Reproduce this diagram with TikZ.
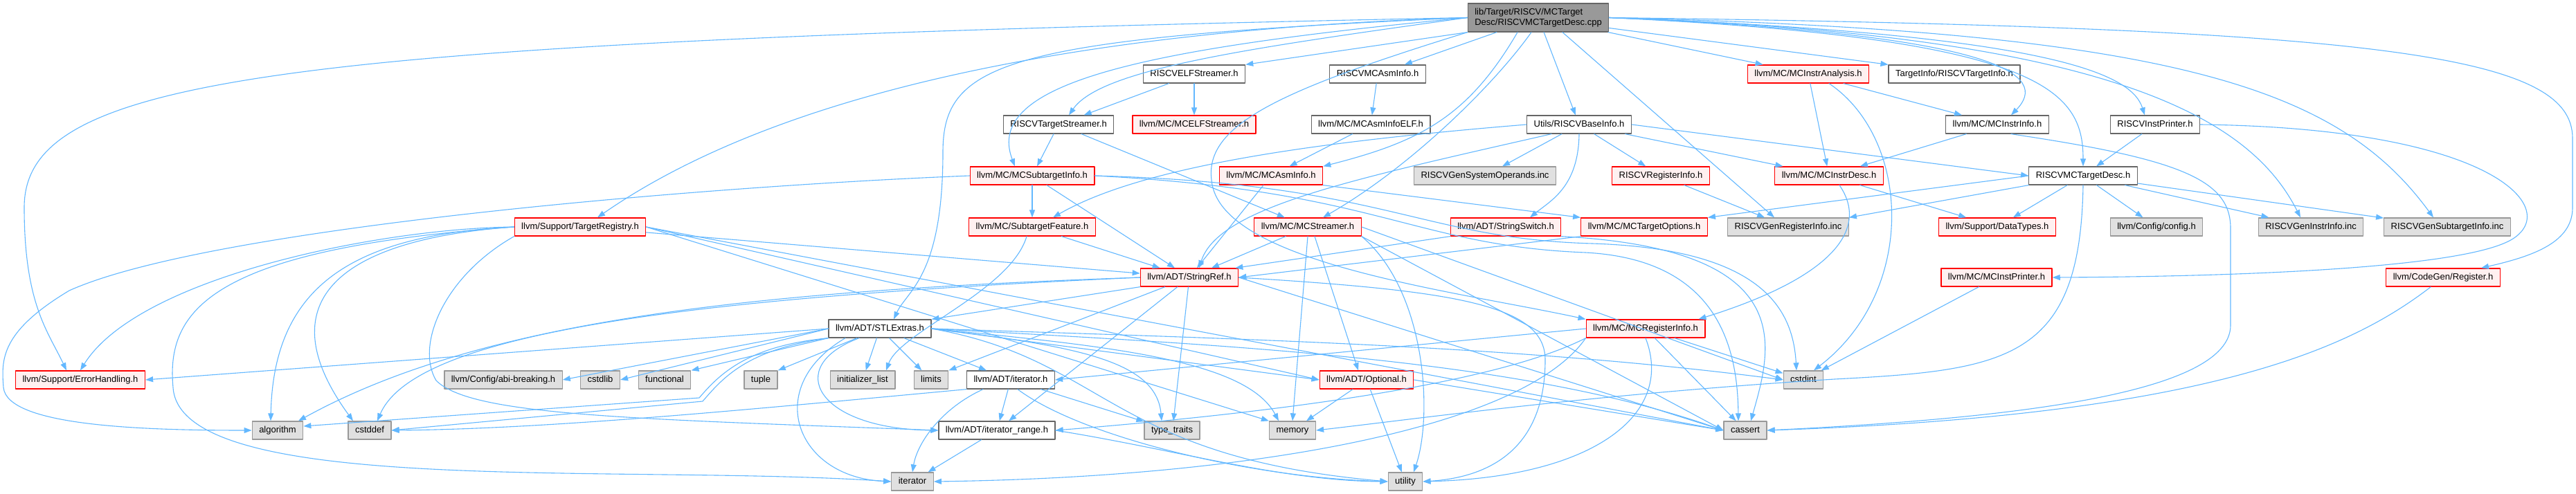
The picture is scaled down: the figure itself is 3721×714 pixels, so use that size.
\documentclass[tikz,border=0pt]{standalone}
\usepackage{fontspec}
\setmainfont{Liberation Sans}
\usetikzlibrary{arrows.meta}
\definecolor{edgecol}{HTML}{63B8FF}
\definecolor{redfill}{HTML}{FFF0F0}
\definecolor{sysfill}{HTML}{E0E0E0}
\definecolor{sysline}{HTML}{999999}
\definecolor{boxline}{HTML}{666666}
\definecolor{rootfill}{HTML}{999999}
\begin{document}
\begin{tikzpicture}[line cap=round,line join=round,>={Triangle[length=11pt,width=8pt]},x=1pt,y=-1pt,
  hdr/.style={draw=boxline,fill=white,line width=1.3pt,minimum height=26pt,inner xsep=10pt,inner ysep=0pt,text height=10pt,text depth=3pt,font=\fontsize{13}{15}\selectfont},
  trunc/.style={hdr,draw=red,fill=redfill},
  sys/.style={hdr,draw=sysline,fill=sysfill},
  root/.style={draw=boxline,fill=rootfill,line width=1.3pt,align=left,inner xsep=10pt,inner ysep=4pt,minimum height=41pt,font=\fontsize{13}{15}\selectfont},
  dep/.style={->,draw=edgecol,fill=none,line width=1.1pt}]
\useasboundingbox (0,0) rectangle (3721,714);
\fill[white] (0,0) rectangle (3721,714);
\node[root] (cpp) at (2222,25.5) {lib/Target/RISCV/MCTarget\\Desc/RISCVMCTargetDesc.cpp};
\node[hdr] (elfstr) at (1725,107) {RISCVELFStreamer.h};
\node[hdr] (asminfor) at (1990,107) {RISCVMCAsmInfo.h};
\node[trunc] (instranal) at (2612,107) {llvm/MC/MCInstrAnalysis.h};
\node[hdr] (tgtinfo) at (2823,107) {TargetInfo/RISCVTargetInfo.h};
\node[hdr] (tgtstr) at (1529,180) {RISCVTargetStreamer.h};
\node[trunc] (mcelf) at (1725,180) {llvm/MC/MCELFStreamer.h};
\node[hdr] (asmelf) at (1980,180) {llvm/MC/MCAsmInfoELF.h};
\node[hdr] (baseinfo) at (2281,180) {Utils/RISCVBaseInfo.h};
\node[hdr] (instrinfo) at (2885,180) {llvm/MC/MCInstrInfo.h};
\node[hdr] (instprinter) at (3113,180) {RISCVInstPrinter.h};
\node[trunc] (subtgt) at (1491,254) {llvm/MC/MCSubtargetInfo.h};
\node[trunc] (asminfo) at (1836,254) {llvm/MC/MCAsmInfo.h};
\node[sys] (sysops) at (2145,254) {RISCVGenSystemOperands.inc};
\node[trunc] (reginfor) at (2399,254) {RISCVRegisterInfo.h};
\node[trunc] (instrdesc) at (2642,254) {llvm/MC/MCInstrDesc.h};
\node[hdr] (tdesch) at (3009,254) {RISCVMCTargetDesc.h};
\node[trunc] (registry) at (838,328) {llvm/Support/TargetRegistry.h};
\node[trunc] (feature) at (1491,328) {llvm/MC/SubtargetFeature.h};
\node[trunc] (streamer) at (1889,328) {llvm/MC/MCStreamer.h};
\node[trunc] (strswitch) at (2175,328) {llvm/ADT/StringSwitch.h};
\node[trunc] (tgtopts) at (2375,328) {llvm/MC/MCTargetOptions.h};
\node[sys] (genreg) at (2583,328) {RISCVGenRegisterInfo.inc};
\node[trunc] (datatypes) at (2885,328) {llvm/Support/DataTypes.h};
\node[sys] (config) at (3115,328) {llvm/Config/config.h};
\node[sys] (geninstr) at (3338,328) {RISCVGenInstrInfo.inc};
\node[sys] (gensub) at (3535,328) {RISCVGenSubtargetInfo.inc};
\node[trunc] (stringref) at (1718,401) {llvm/ADT/StringRef.h};
\node[trunc] (instprint) at (2884,401) {llvm/MC/MCInstPrinter.h};
\node[trunc] (register) at (3529,401) {llvm/CodeGen/Register.h};
\node[hdr] (stlextras) at (1271,475) {llvm/ADT/STLExtras.h};
\node[trunc] (mcreginfo) at (2377,475) {llvm/MC/MCRegisterInfo.h};
\node[trunc] (errhandling) at (116,549) {llvm/Support/ErrorHandling.h};
\node[sys] (abibreak) at (727,549) {llvm/Config/abi-breaking.h};
\node[sys] (cstdlib) at (867,549) {cstdlib};
\node[sys] (functional) at (960,549) {functional};
\node[sys] (tuple) at (1099,549) {tuple};
\node[sys] (initlist) at (1246,549) {initializer\_list};
\node[sys] (limits) at (1345,549) {limits};
\node[hdr] (iterh) at (1460,549) {llvm/ADT/iterator.h};
\node[trunc] (optional) at (1974,549) {llvm/ADT/Optional.h};
\node[sys] (cstdint) at (2605,549) {cstdint};
\node[sys] (algorithm) at (401,622) {algorithm};
\node[sys] (cstddef) at (534,622) {cstddef};
\node[hdr] (iterrange) at (1440,622) {llvm/ADT/iterator\_range.h};
\node[sys] (typetraits) at (1693,622) {type\_traits};
\node[sys] (memory) at (1867,622) {memory};
\node[sys] (cassert) at (2521,622) {cassert};
\node[sys] (iterator) at (1318,696) {iterator};
\node[sys] (utility) at (2030,696) {utility};
\draw[dep] (cpp.west) .. controls (400,60) and (35,110) .. (35,300) .. controls (35,440) and (70,480) .. ([xshift=-20pt]errhandling.north);
\draw[dep] (cpp.west) .. controls (1500,45) and (1100,150) .. ([xshift=25pt]registry.north);
\draw[dep] (cpp.west) .. controls (1450,55) and (1362,90) .. (1362,220) .. controls (1362,400) and (1310,420) .. ([xshift=20pt]stlextras.north);
\draw[dep] (cpp.west) .. controls (1650,70) and (1420,120) .. ([xshift=-25pt]subtgt.north);
\draw[dep] (cpp.west) .. controls (1800,70) and (1590,100) .. ([xshift=15pt]tgtstr.north);
\draw[dep] (cpp.south west) -- (elfstr.north east);
\draw[dep] (cpp) -- (asminfor);
\draw[dep] ([xshift=-30pt]cpp.south) .. controls (2120,170) and (2050,205) .. (asminfo.north east);
\draw[dep] ([xshift=-10pt]cpp.south) .. controls (2160,120) and (2040,240) .. ([xshift=22pt]streamer.north);
\draw[dep] (cpp) -- (baseinfo);
\draw[dep] ([xshift=35pt]cpp.south) -- ([xshift=-20pt]genreg.north);
\draw[dep] (cpp) -- (instranal);
\draw[dep] ([yshift=-15pt]cpp.east) -- (tgtinfo.north west);
\draw[dep] (cpp.east) .. controls (2900,50) and (2960,110) .. ([xshift=20pt]instrinfo.north);
\draw[dep] (cpp.east) .. controls (2950,55) and (3009,130) .. (tdesch.north);
\draw[dep] (cpp.east) .. controls (2980,50) and (3080,110) .. ([xshift=-15pt]instprinter.north);
\draw[dep] (cpp.east) .. controls (3050,50) and (3250,170) .. ([xshift=-15pt]geninstr.north);
\draw[dep] (cpp.east) .. controls (3150,45) and (3380,130) .. ([xshift=-20pt]gensub.north);
\draw[dep] (cpp.east) .. controls (3450,40) and (3716,80) .. (3716,200) -- (3716,300) .. controls (3716,350) and (3660,370) .. ([xshift=55pt]register.north);
\draw[dep] (cpp.south west) .. controls (1850,130) and (1740,180) .. (1750,260) .. controls (1760,380) and (2100,420) .. (mcreginfo.north west);
\draw[dep] (elfstr) -- (tgtstr);
\draw[dep] (elfstr) -- (mcelf);
\draw[dep] (asminfor) -- (asmelf);
\draw[dep] (instranal) -- (instrdesc);
\draw[dep] (instranal) -- (instrinfo);
\draw[dep] ([xshift=30pt]instranal.south) .. controls (2760,200) and (2770,420) .. ([xshift=15pt]cstdint.north);
\draw[dep] (tgtstr) -- (subtgt);
\draw[dep] (tgtstr) -- (streamer);
\draw[dep] (asmelf) -- (asminfo);
\draw[dep] (baseinfo.west) .. controls (1900,205) and (1650,240) .. ([xshift=30pt]feature.north);
\draw[dep] ([xshift=-40pt]baseinfo.south) .. controls (1950,260) and (1760,300) .. ([xshift=14pt]stringref.north);
\draw[dep] (baseinfo) -- (sysops);
\draw[dep] (baseinfo.south) .. controls (2280,270) and (2240,290) .. ([xshift=35pt]strswitch.north);
\draw[dep] (baseinfo) -- (reginfor);
\draw[dep] (baseinfo) -- (instrdesc);
\draw[dep] (baseinfo.east) -- (tdesch.west);
\draw[dep] (instrinfo) -- (instrdesc);
\draw[dep] ([xshift=20pt]instrinfo.south) .. controls (3150,230) and (3222,260) .. (3222,330) -- (3222,470) .. controls (3222,570) and (2900,605) .. (cassert.east);
\draw[dep] (instprinter) -- (tdesch);
\draw[dep] (instprinter.east) .. controls (3600,185) and (3700,300) .. (3630,345) .. controls (3560,390) and (3200,400) .. (instprint.east);
\draw[dep] (subtgt) -- (feature);
\draw[dep] (subtgt) -- (stringref);
\draw[dep] (subtgt.west) .. controls (1000,270) and (300,330) .. (100,420) .. controls (0,480) and (2,520) .. (5,560) .. controls (10,615) and (200,622) .. (algorithm.west);
\draw[dep] (subtgt.east) .. controls (2000,265) and (2050,345) .. (2300,352) .. controls (2550,360) and (2590,450) .. ([xshift=-10pt]cstdint.north);
\draw[dep] (subtgt.east) .. controls (1990,275) and (2040,355) .. (2290,365) .. controls (2480,375) and (2510,500) .. ([xshift=-10pt]cassert.north);
\draw[dep] (asminfo) -- (stringref);
\draw[dep] (asminfo.south east) -- (tgtopts.north west);
\draw[dep] (reginfor) -- (genreg);
\draw[dep] ([xshift=15pt]instrdesc.south) .. controls (2700,330) and (2650,400) .. ([xshift=-10pt]mcreginfo.north east);
\draw[dep] (instrdesc) -- (datatypes);
\draw[dep] (tdesch) -- (datatypes);
\draw[dep] (tdesch) -- (config);
\draw[dep] (tdesch) -- (geninstr);
\draw[dep] (tdesch) -- (gensub);
\draw[dep] (tdesch.west) -- (tgtopts.north east);
\draw[dep] (tdesch.south west) -- (genreg.north east);
\draw[dep] (tdesch.south) .. controls (3005,520) and (2900,535) .. (2650,548) .. controls (2300,570) and (2050,605) .. (memory.east);
\draw[dep] (registry.west) .. controls (550,330) and (200,400) .. (errhandling.north);
\draw[dep] (registry.west) .. controls (500,340) and (395,420) .. ([xshift=-10pt]algorithm.north);
\draw[dep] (registry.west) .. controls (500,345) and (380,430) .. ([xshift=-24pt]cstddef.north);
\draw[dep] (registry.west) .. controls (300,360) and (240,450) .. (250,560) .. controls (260,720) and (900,670) .. (iterator.west);
\draw[dep] (registry.east) -- (memory.north west);
\draw[dep] (registry.east) -- (cassert.west);
\draw[dep] (registry) -- (stringref);
\draw[dep] (registry.south west) .. controls (640,400) and (600,500) .. (630,550) .. controls (680,600) and (900,605) .. (iterrange.west);
\draw[dep] (registry.east) -- (optional.west);
\draw[dep] (feature) -- (stringref);
\draw[dep] ([xshift=-8pt]feature.south) .. controls (1460,420) and (1300,480) .. ([xshift=34pt]initlist.north);
\draw[dep] (streamer) -- (stringref);
\draw[dep] ([xshift=10pt]streamer.south) -- ([xshift=-12pt]optional.north);
\draw[dep] (streamer.south) -- (memory.north);
\draw[dep] (streamer.south east) -- (cassert.west);
\draw[dep] (streamer.east) -- (cstdint.west);
\draw[dep] (streamer.south east) .. controls (2060,420) and (2070,600) .. ([xshift=12pt]utility.north);
\draw[dep] (strswitch.south west) -- ([xshift=-5pt]stringref.north east);
\draw[dep] (strswitch.south east) .. controls (2600,360) and (2560,500) .. ([xshift=8pt]cassert.north);
\draw[dep] (tgtopts.south west) -- (stringref.east);
\draw[dep] (stringref.south west) -- (stlextras.north east);
\draw[dep] (stringref) -- (iterrange);
\draw[dep] (stringref.west) .. controls (1100,420) and (700,460) .. ([xshift=30pt]algorithm.north);
\draw[dep] (stringref.west) .. controls (1000,430) and (600,480) .. ([xshift=11pt]cstddef.north);
\draw[dep] (stringref.east) -- (cassert.west);
\draw[dep] (stringref) -- (limits.north east);
\draw[dep] (stringref) -- ([xshift=2pt]typetraits.north);
\draw[dep] (stringref.east) .. controls (2100,420) and (2232,440) .. (2232,520) .. controls (2232,650) and (2150,690) .. (utility.east);
\draw[dep] (stlextras.west) -- (errhandling.east);
\draw[dep] (stlextras.west) -- (abibreak.east);
\draw[dep] (stlextras.west) -- (cstdlib.east);
\draw[dep] (stlextras.south west) -- (functional.north east);
\draw[dep] (stlextras) -- (tuple.north east);
\draw[dep] (stlextras) -- (initlist);
\draw[dep] (stlextras) -- (limits);
\draw[dep] (stlextras) -- ([xshift=-35pt]iterh.north);
\draw[dep] (stlextras.south west) .. controls (1080,500) and (1040,540) .. (1010,575) -- ([yshift=6pt]algorithm.east);
\draw[dep] (stlextras.south west) .. controls (1080,505) and (1045,545) .. (1015,580) -- (cstddef.east);
\draw[dep] ([xshift=-30pt]stlextras.south) .. controls (1130,530) and (1180,620) .. (iterrange.west);
\draw[dep] ([xshift=-50pt]stlextras.south) .. controls (1100,560) and (1150,690) .. (iterator.west);
\draw[dep] (stlextras.east) -- (optional.west);
\draw[dep] (stlextras.east) .. controls (1800,500) and (2200,520) .. (cassert.west);
\draw[dep] (stlextras.east) .. controls (1800,490) and (2200,500) .. (cstdint.west);
\draw[dep] (stlextras.east) .. controls (1600,500) and (1800,520) .. ([xshift=-20pt]memory.north);
\draw[dep] (stlextras.east) .. controls (1550,500) and (1670,520) .. ([xshift=-15pt]typetraits.north);
\draw[dep] (stlextras.east) .. controls (1600,520) and (1600,660) .. (utility.west);
\draw[dep] (mcreginfo.west) -- (iterh.east);
\draw[dep] (mcreginfo.south west) .. controls (2150,560) and (1800,600) .. (iterrange.east);
\draw[dep] (mcreginfo.south west) .. controls (2200,620) and (1800,690) .. (iterator.east);
\draw[dep] (mcreginfo) -- (cassert);
\draw[dep] (mcreginfo) -- (cstdint);
\draw[dep] (mcreginfo.south) .. controls (2420,600) and (2300,690) .. (utility.east);
\draw[dep] (iterh) -- (iterrange);
\draw[dep] (iterh.south west) .. controls (1100,590) and (800,620) .. (cstddef.east);
\draw[dep] ([xshift=-40pt]iterh.south) .. controls (1360,590) and (1325,640) .. (iterator.north);
\draw[dep] (iterh) -- (typetraits);
\draw[dep] ([xshift=10pt]iterh.south) .. controls (1560,630) and (1800,690) .. (utility.west);
\draw[dep] (iterrange) -- (iterator);
\draw[dep] (iterrange.east) .. controls (1700,650) and (1850,695) .. (utility.west);
\draw[dep] (optional) -- (memory);
\draw[dep] (optional) -- (utility);
\draw[dep] (optional.east) -- (cassert.west);
\draw[dep] (instprint) -- (cstdint);
\draw[dep] (register) .. controls (3400,500) and (3200,600) .. (cassert.east);
\end{tikzpicture}
\end{document}
